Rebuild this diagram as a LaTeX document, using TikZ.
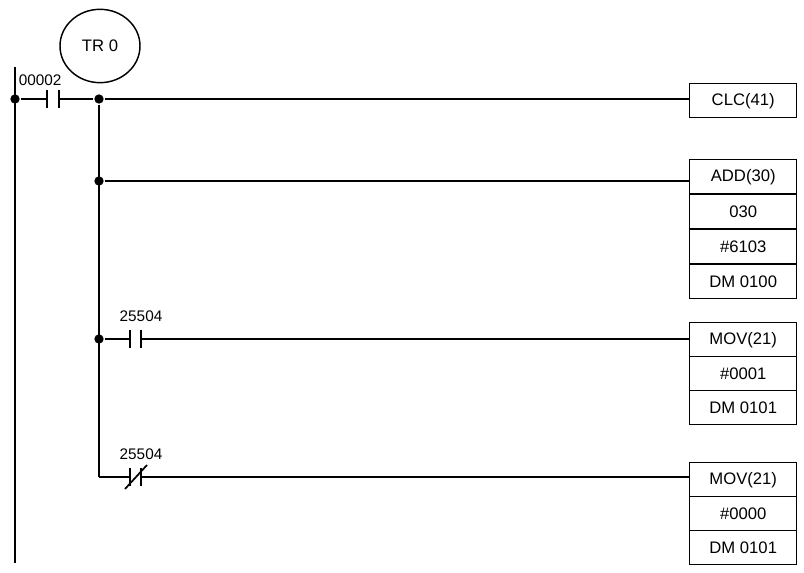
\documentclass[tikz,border=0pt]{standalone}
\usepackage{fontspec}
\usetikzlibrary{shapes.geometric}
\setmainfont{Liberation Sans}
\begin{document}
\begin{tikzpicture}[x=0.75pt,y=-0.75pt,line width=1.3pt,
  dotm/.style={circle,fill=black,inner sep=0pt,minimum size=7pt},
  instr/.style={draw,line width=1.1pt,minimum width=80.25pt,minimum height=25.5pt,inner sep=0pt,font=\fontsize{12.5}{14}\selectfont,anchor=north west},
  lbl/.style={font=\fontsize{11.5}{13}\selectfont,inner sep=0pt}]
\useasboundingbox (0,0) rectangle (804,573);
% rail
\coordinate (rt) at (15,67); \coordinate (rb) at (15,563);
\draw (rt) -- (rb);
\node[dotm] (d0) at (15,99) {};
\node[dotm] (d1) at (99,99) {};
\node[dotm] (d2) at (99,181) {};
\node[dotm] (d3) at (99,339) {};
\coordinate (c4) at (99,477);
\draw (d1) -- (c4);
% TR0
\node[draw,ellipse,line width=1.1pt,minimum width=60pt,minimum height=55pt,inner sep=0pt,font=\fontsize{12.5}{14}\selectfont] (tr) at (100,46) {TR 0};
% contact 00002
\coordinate (a1) at (47,99); \coordinate (a2) at (59,99);
\draw (d0) -- (a1); \draw (a2) -- (d1);
\draw (47,90) -- (47,108); \draw (59,90) -- (59,108);
\node[lbl,anchor=south west] (l0) at (18,87) {00002};
% boxes
\node[instr] (clc) at (689,83) {CLC(41)};
\node[instr] (add) at (689,159) {ADD(30)};
\node[instr] (b030) at (689,194) {030};
\node[instr] (b6103) at (689,229) {\#6103};
\node[instr] (bdm0) at (689,264) {DM 0100};
\node[instr] (mov1) at (689,322) {MOV(21)};
\node[instr] (b0001) at (689,356) {\#0001};
\node[instr] (bdm1) at (689,390) {DM 0101};
\node[instr] (mov2) at (689,462) {MOV(21)};
\node[instr] (b0000) at (689,496) {\#0000};
\node[instr] (bdm2) at (689,530) {DM 0101};
% rungs
\draw (d1) -- (clc.west|-d1);
\draw (d2) -- (add.west|-d2);
% contact 25504 NO
\draw (d3) -- (130,339); \draw (141,339) -- (mov1.west|-d3);
\draw (130,330) -- (130,348); \draw (141,330) -- (141,348);
\node[lbl,anchor=south] (l3) at (141,323) {25504};
% contact 25504 NC
\draw (c4) -- (130,477); \draw (141,477) -- (mov2.west|-c4);
\draw (130,468) -- (130,486); \draw (141,468) -- (141,486);
\draw (125,489) -- (147,465);
\node[lbl,anchor=south] (l4) at (141,461) {25504};
\end{tikzpicture}
\end{document}
